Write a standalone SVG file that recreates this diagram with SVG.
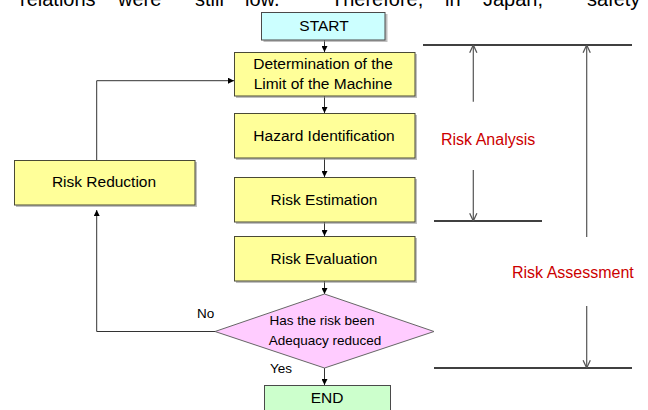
<svg xmlns="http://www.w3.org/2000/svg" width="648" height="410" viewBox="0 0 648 410">
  <style>
    .box{fill:#FFFF99;stroke:#4a4a36;stroke-width:1}
    .shadow{fill:#8c8c8c;opacity:.55}
    .t{font-family:"Liberation Sans",Arial,sans-serif;font-size:15.5px;fill:#000;text-anchor:middle}
    .small{font-size:13.5px}
    .lbl{font-family:"Liberation Sans",Arial,sans-serif;font-size:13.5px;fill:#000}
    .red{font-family:"Liberation Sans",Arial,sans-serif;font-size:16px;fill:#CC0000}
    .body{font-family:"Liberation Sans",Arial,sans-serif;font-size:20px;fill:#000}
    .flow{stroke:#333;stroke-width:1;fill:none}
    .dim{stroke:#555;stroke-width:1.2;fill:none}
    .rule{stroke:#000;stroke-width:1.5;fill:none}
  </style>
  <defs>
    <marker id="ah" viewBox="0 0 6 6" refX="6" refY="3" markerWidth="6" markerHeight="6" orient="auto" markerUnits="userSpaceOnUse">
      <path d="M0,0 L6,3 L0,6 z" fill="#000"/>
    </marker>
    <marker id="open" viewBox="0 0 10 10" refX="9.5" refY="5" markerWidth="9" markerHeight="9" orient="auto" markerUnits="userSpaceOnUse">
      <path d="M1,1 L9.5,5 L1,9" fill="none" stroke="#555" stroke-width="1.4"/>
    </marker>
  </defs>

  <!-- running text of the page above the figure, clipped at the top edge -->
  <g id="page-text" class="body">
    <text x="20" y="6">relations</text>
    <text x="118" y="6">were</text>
    <text x="195" y="6">still</text>
    <text x="245" y="6">low.</text>
    <text x="331" y="6">Therefore,</text>
    <text x="445" y="6">in</text>
    <text x="483" y="6">Japan,</text>
    <text x="587" y="6">safety</text>
  </g>

  <!-- connectors -->
  <g id="connectors">
    <path class="flow" d="M324.5,40 V52" marker-end="url(#ah)"/>
    <path class="flow" d="M324.5,96 V113" marker-end="url(#ah)"/>
    <path class="flow" d="M324.5,158 V177" marker-end="url(#ah)"/>
    <path class="flow" d="M324.5,222 V236" marker-end="url(#ah)"/>
    <path class="flow" d="M324.5,281 V294" marker-end="url(#ah)"/>
    <path class="flow" d="M324.5,368 V385" marker-end="url(#ah)"/>
    <path class="flow" d="M215,331.5 H96.7 V210" marker-end="url(#ah)"/>
    <path class="flow" d="M96.7,160 V80.7 H234" marker-end="url(#ah)"/>

    <!-- range markers on the right -->
    <path class="rule" d="M423,45 H632"/>
    <path class="rule" d="M434,221 H542"/>
    <path class="rule" d="M434,368 H632"/>
    <path class="dim" d="M473.3,101.7 V45" marker-end="url(#open)"/>
    <path class="dim" d="M473.3,170 V221" marker-end="url(#open)"/>
    <path class="dim" d="M586.7,237 V45" marker-end="url(#open)"/>
    <path class="dim" d="M586.7,306 V368" marker-end="url(#open)"/>
  </g>

  <g id="start">
    <rect class="shadow" x="263.5" y="14" width="124" height="28"/>
    <rect x="261.5" y="12.5" width="123.5" height="27.5" fill="#CCFFFF" stroke="#4a4a4a" stroke-width="1"/>
    <text class="t" x="324" y="31">START</text>
  </g>

  <g id="limit">
    <rect class="shadow" x="236" y="54" width="181" height="44"/>
    <rect class="box" x="234.5" y="52.5" width="180.5" height="43.5"/>
    <text class="t" x="323" y="68.5">Determination of the</text>
    <text class="t" x="323" y="89">Limit of the Machine</text>
  </g>

  <g id="hazard">
    <rect class="shadow" x="236" y="115" width="181" height="45"/>
    <rect class="box" x="234.5" y="113.5" width="180.5" height="44.5"/>
    <text class="t" x="324" y="141">Hazard Identification</text>
  </g>

  <g id="estimation">
    <rect class="shadow" x="236" y="179" width="181" height="45"/>
    <rect class="box" x="234.5" y="177.5" width="180.5" height="44.5"/>
    <text class="t" x="324" y="205">Risk Estimation</text>
  </g>

  <g id="evaluation">
    <rect class="shadow" x="236" y="238" width="181" height="45"/>
    <rect class="box" x="234.5" y="236.5" width="180.5" height="44.5"/>
    <text class="t" x="324" y="264">Risk Evaluation</text>
  </g>

  <g id="reduction">
    <rect class="shadow" x="16" y="162" width="181" height="45"/>
    <rect class="box" x="14.5" y="160.5" width="180.5" height="44.5"/>
    <text class="t" x="104" y="187">Risk Reduction</text>
  </g>

  <g id="decision">
    <polygon points="324.5,294 434,331.5 324.5,368 215,331.5" fill="#FFCCFF" stroke="#666" stroke-width="1"/>
    <text class="t small" x="322" y="325">Has the risk been</text>
    <text class="t small" x="325" y="345">Adequacy reduced</text>
    <text class="lbl" x="197" y="318">No</text>
    <text class="lbl" x="270" y="373">Yes</text>
  </g>

  <g id="end">
    <rect x="264.5" y="385.5" width="126" height="30" fill="#CCFFCC" stroke="#4a4a4a" stroke-width="1"/>
    <text class="t" x="327" y="403">END</text>
  </g>

  <g id="labels">
    <text class="red" x="441" y="145">Risk Analysis</text>
    <text class="red" x="512" y="278">Risk Assessment</text>
  </g>
</svg>
